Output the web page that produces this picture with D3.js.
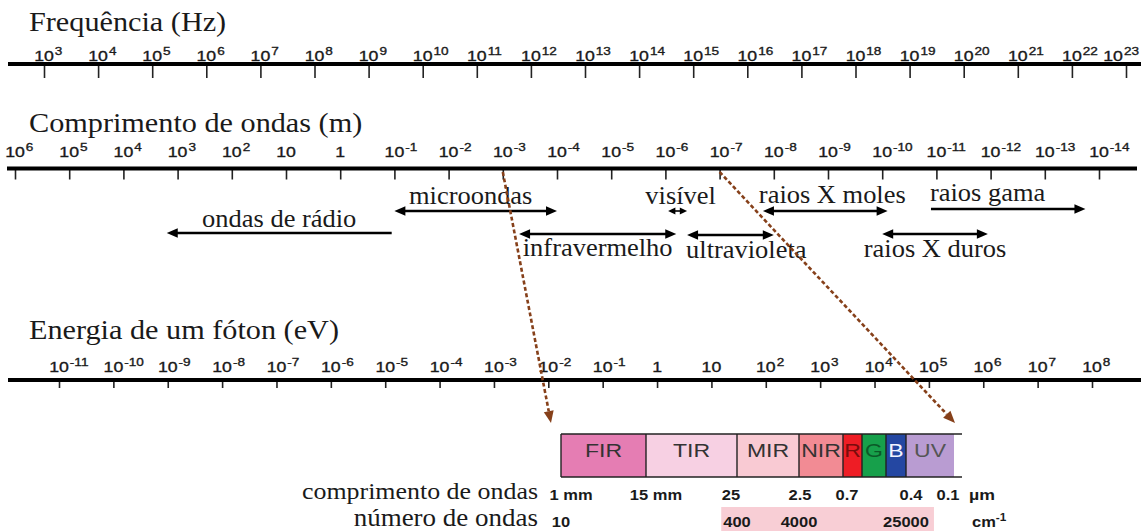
<!DOCTYPE html>
<html>
<head>
<meta charset="utf-8">
<script src="https://cdnjs.cloudflare.com/ajax/libs/d3/7.8.5/d3.min.js"></script>
<style>
  body { margin: 0; background: #fff; }
  svg { display: block; }
  .serif { font-family: "Liberation Serif", "Times New Roman", serif; fill: #1a1a1a; }
  .sans { font-family: "Liberation Sans", Arial, sans-serif; fill: #1a1a1a; }
  .tk { stroke: #1a1a1a; stroke-width: 0.35px; }
</style>
</head>
<body>
<div id="chart-area"></div>
<script>

// ---- data ----
// axis ticks, as powers of ten
var freqExp = [3, 4, 5, 6, 7, 8, 9, 10, 11, 12, 13, 14, 15, 16, 17, 18, 19, 20, 21, 22, 23];
var waveExp = [6, 5, 4, 3, 2, 1, 0, -1, -2, -3, -4, -5, -6, -7, -8, -9, -10, -11, -12, -13, -14];
var energyExp = [-11, -10, -9, -8, -7, -6, -5, -4, -3, -2, -1, 0, 1, 2, 3, 4, 5, 6, 7, 8];

// spectral regions, wavelength range in log10(m)
var bandNames = ["ondas de rádio", "microondas", "infravermelho", "visível", "ultravioleta", "raios X moles", "raios X duros", "raios gama"];
var bandFromExp = [3.2, -1, -3.3, -6.05, -6.4, -7.8, -10, -10.9];
var bandToExp = [-0.95, -4, -6.2, -6.4, -8, -10.1, -11.95, -13.75];

// detail bar
var barLabels = ["FIR", "TIR", "MIR", "NIR", "R", "G", "B", "UV"];
var waveLenLabels = ["1 mm", "15 mm", "25", "2.5", "0.7", "0.4", "0.1"];
var waveLenEdge = [0, 1, 2, 3, 4, 7, 8];
var waveNumLabels = ["10", "400", "4000", "25000"];
var waveNumEdge = [0, 2, 3, 7];

// dashed pointers: from wavelength (log10 m) to bar edge
var pointerFromExp = [-3, -7];
var pointerToEdge = [0, 8];

// ---- layout / style ----
var width = 1141, height = 531;
var SX = 1.18;      // sans text is a little wide in the picture
var SX_SERIF = 1.08;

var rows = [
    { title: "Frequência (Hz)", titleY: 31, lineY: 64, labelY: 61, tick: 14, range: [44, 1126], x0: 8, x1: 1141 },
    { title: "Comprimento de ondas (m)", titleY: 132, lineY: 168.5, labelY: 157, tick: 11, range: [15, 1099], x0: 7, x1: 1137 },
    { title: "Energia de um fóton (eV)", titleY: 339, lineY: 380, labelY: 372, tick: 8, range: [59, 1092], x0: 8, x1: 1141 }
];

var bandLayout = {
    "ondas de rádio": { y: 233, textY: 227, anchor: "middle", heads: [true, false] },
    "microondas":     { y: 211, textY: 204, anchor: "middle", dx: -5, heads: [true, true] },
    "infravermelho":  { y: 234, textY: 256, anchor: "middle", heads: [true, true] },
    "visível":        { y: 211, textY: 204, anchor: "middle", dx: 3, heads: [true, true] },
    "ultravioleta":   { y: 235, textY: 258, anchor: "start", dx: -1, heads: [true, true] },
    "raios X moles":  { y: 211, textY: 203, anchor: "middle", dx: 7, heads: [true, true] },
    "raios X duros":  { y: 234, textY: 257, anchor: "middle", dx: 0, heads: [true, true] },
    "raios gama":     { y: 209, textY: 201, anchor: "start", dx: -1, heads: [false, true] }
};

var barEdges = [561, 646, 737, 799, 843, 862, 886, 906, 954];
var waveLenDx = [10, 10, -6, 1, 4, 5, -6];
var barTop = 434, barHeight = 43;
var barFill = { FIR: "#e57db3", TIR: "#f7d0e3", MIR: "#f9cad3", NIR: "#f28b94", R: "#ee1d25", G: "#17a04b", B: "#2447a2", UV: "#b99cd2" };
var barInk = { FIR: "#333", TIR: "#333", MIR: "#333", NIR: "#333", R: "#7a0c0c", G: "#0b5a28", B: "#f2f4ff", UV: "#555" };
var brown = "#86401a";

var svg = d3.select("#chart-area")
    .append("svg")
        .attr("width", width)
        .attr("height", height);

function stext(parent, x, y, str, sx) {
    return parent.append("text")
        .attr("transform", "translate(" + x + "," + y + ") scale(" + (sx || SX) + ",1)")
        .text(str);
}

// ---- the three log axes ----
var scales = [
    d3.scaleLog().domain([1e3, 1e23]).range(rows[0].range),
    d3.scaleLog().domain([1e6, 1e-14]).range(rows[1].range),
    d3.scaleLog().domain([1e-11, 1e8]).range(rows[2].range)
];
var exps = [freqExp, waveExp, energyExp];

rows.forEach(function(r, i) {
    var sc = scales[i];

    stext(svg, 29, r.titleY, r.title, SX_SERIF).attr("class", "serif").attr("font-size", "28px");

    var axisG = svg.append("g").attr("transform", "translate(0," + r.lineY + ")");
    axisG.call(d3.axisBottom(sc)
        .tickValues(exps[i].map(function(e) { return Math.pow(10, e); }))
        .tickSize(r.tick)
        .tickSizeOuter(0)
        .tickFormat(""));
    axisG.select(".domain").remove();
    axisG.selectAll(".tick line").attr("stroke", "#222").attr("stroke-width", 1.6);

    svg.append("line")
        .attr("x1", r.x0).attr("x2", r.x1)
        .attr("y1", r.lineY).attr("y2", r.lineY)
        .attr("stroke", "#000").attr("stroke-width", 4);

    exps[i].forEach(function(e) {
        var x = sc(Math.pow(10, e));
        var lbl = svg.append("g");
        var base = stext(lbl, x, r.labelY, e === 0 ? "1" : "10")
            .attr("class", "sans tk").attr("font-size", "15px").attr("text-anchor", "middle");
        if (e !== 0 && e !== 1) {
            var w = base.node().getComputedTextLength() * SX;
            stext(lbl, x + w / 2 + 1, r.labelY - 6, String(e))
                .attr("class", "sans tk").attr("font-size", "11.5px");
        }
        // keep the label inside the picture
        var bb = lbl.node().getBBox();
        if (bb.x + bb.width > width - 2) {
            lbl.attr("transform", "translate(" + (width - 2 - bb.x - bb.width) + ",0)");
        }
    });
});

// ---- arrows for the spectral regions ----
function arrowHead(x, y, dir, len, half) {
    return "M" + x + "," + y + "L" + (x - dir * len) + "," + (y - half) + "L" + (x - dir * len) + "," + (y + half) + "Z";
}

var waveScale = scales[1];
bandNames.forEach(function(name, i) {
    var lay = bandLayout[name];
    var xa = waveScale(Math.pow(10, bandFromExp[i]));
    var xb = waveScale(Math.pow(10, bandToExp[i]));
    var span = xb - xa;
    var hl = span < 30 ? span / 2.6 : 11;
    var hw = span < 30 ? 3.6 : 4.8;
    var g = svg.append("g");

    g.append("line")
        .attr("x1", lay.heads[0] ? xa + hl - 1 : xa)
        .attr("x2", lay.heads[1] ? xb - hl + 1 : xb)
        .attr("y1", lay.y).attr("y2", lay.y)
        .attr("stroke", "#000").attr("stroke-width", span < 30 ? 1.6 : 2.6);
    if (lay.heads[0]) g.append("path").attr("d", arrowHead(xa, lay.y, -1, hl, hw)).attr("fill", "#000");
    if (lay.heads[1]) g.append("path").attr("d", arrowHead(xb, lay.y, 1, hl, hw)).attr("fill", "#000");

    var tx = (lay.anchor === "start" ? xa : (xa + xb) / 2) + (lay.dx || 0);
    stext(g, tx, lay.textY, name, SX_SERIF)
        .attr("class", "serif").attr("font-size", "24.5px").attr("text-anchor", lay.anchor);
});

// ---- detail bar ----
var barX = d3.scaleLinear().domain(d3.range(barEdges.length)).range(barEdges);

var barG = svg.append("g");
barG.selectAll("rect.seg")
    .data(barLabels)
    .enter()
    .append("rect")
        .attr("class", "seg")
        .attr("x", function(d, i) { return barX(i); })
        .attr("y", barTop)
        .attr("width", function(d, i) { return barX(i + 1) - barX(i); })
        .attr("height", barHeight)
        .attr("fill", function(d) { return barFill[d]; });

[barTop, barTop + barHeight].forEach(function(y) {
    barG.append("line")
        .attr("x1", barX(0)).attr("x2", barX(barLabels.length) + 8)
        .attr("y1", y).attr("y2", y)
        .attr("stroke", "#222").attr("stroke-width", 1.4);
});
barLabels.forEach(function(d, i) {
    barG.append("line")
        .attr("x1", barX(i)).attr("x2", barX(i))
        .attr("y1", barTop).attr("y2", barTop + barHeight)
        .attr("stroke", "#222").attr("stroke-width", 1.4);
    stext(barG, (barX(i) + barX(i + 1)) / 2, barTop + 23, d, 1.28)
        .attr("class", "sans").attr("font-size", "18px").attr("text-anchor", "middle")
        .style("fill", barInk[d]);
});

// captions under the bar
stext(svg, 538, 499, "comprimento de ondas", SX_SERIF).attr("class", "serif").attr("font-size", "24px").attr("text-anchor", "end");
stext(svg, 538, 526, "número de ondas", SX_SERIF).attr("class", "serif").attr("font-size", "25px").attr("text-anchor", "end");

waveLenLabels.forEach(function(d, i) {
    stext(svg, barX(waveLenEdge[i]) + waveLenDx[i], 500, d)
        .attr("class", "sans").attr("font-size", "14px").attr("font-weight", "bold").attr("text-anchor", "middle");
});
stext(svg, 969, 500, "µm").attr("class", "sans").attr("font-size", "15px").attr("font-weight", "bold");

var numBand = svg.append("rect").attr("fill", "#f8ced5");
var numLeft = Infinity, numRight = -Infinity;
waveNumLabels.forEach(function(d, i) {
    var x = barX(waveNumEdge[i]);
    var t = stext(svg, x, 527, d)
        .attr("class", "sans").attr("font-size", "14px").attr("font-weight", "bold").attr("text-anchor", "middle");
    if (i > 0) {
        var w = t.node().getComputedTextLength() * SX;
        numLeft = Math.min(numLeft, x - w / 2);
        numRight = Math.max(numRight, x + w / 2);
    }
});
numBand.attr("x", numLeft - 2).attr("y", 507).attr("width", numRight - numLeft + 7).attr("height", 24);

var cm = stext(svg, 972, 527, "cm").attr("class", "sans").attr("font-size", "14px").attr("font-weight", "bold");
stext(svg, 972 + cm.node().getComputedTextLength() * SX, 521, "-1")
    .attr("class", "sans").attr("font-size", "10px").attr("font-weight", "bold");

// ---- dashed brown pointers ----
pointerFromExp.forEach(function(e, i) {
    var x0 = waveScale(Math.pow(10, e)), y0 = 172;
    var x1 = barX(pointerToEdge[i]) + (i === 0 ? -10 : 1), y1 = 423;
    var ang = Math.atan2(y1 - y0, x1 - x0);
    var hl = 12, hw = 5;
    var bx = x1 - hl * Math.cos(ang), by = y1 - hl * Math.sin(ang);
    svg.append("line")
        .attr("x1", x0).attr("y1", y0).attr("x2", bx).attr("y2", by)
        .attr("stroke", brown).attr("stroke-width", 2.6)
        .attr("stroke-dasharray", "4,2.5");
    var px = -Math.sin(ang) * hw, py = Math.cos(ang) * hw;
    svg.append("path")
        .attr("d", "M" + x1 + "," + y1 + "L" + (bx + px) + "," + (by + py) + "L" + (bx - px) + "," + (by - py) + "Z")
        .attr("fill", brown);
});

</script>
</body>
</html>
